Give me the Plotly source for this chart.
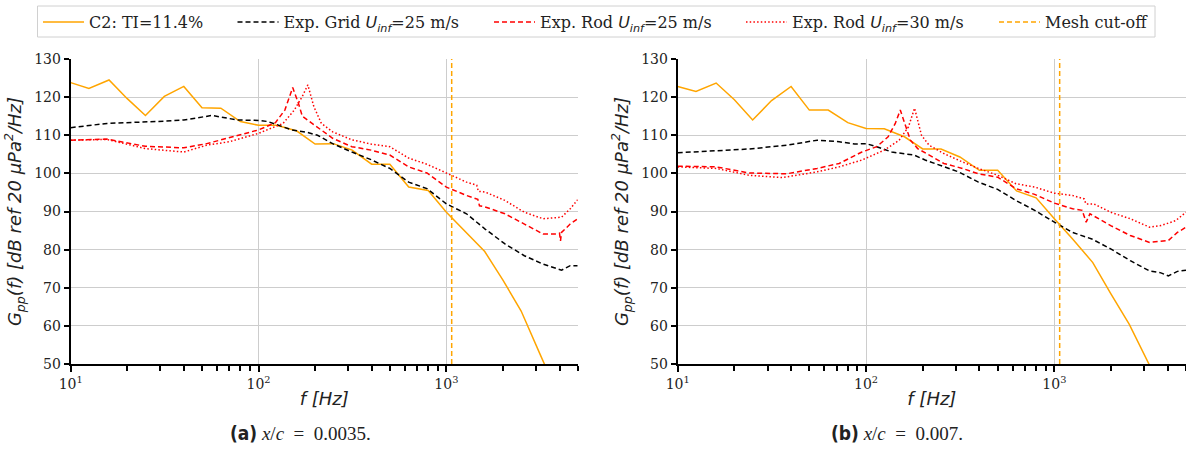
import plotly.graph_objects as go

W, H = 1186, 453

# ---------------- data ----------------
# CFD (C2) third-octave band spectra
freq_c2 = [10, 12.5, 16, 20, 25, 31.5, 40, 50, 63, 80, 100, 125, 160, 200, 250, 315,
           400, 500, 630, 800, 1000, 1250, 1600, 2000, 2500, 3150, 4000]
gpp_c2_a = [123.8, 122.3, 124.5, 119.6, 115.2, 120.2, 122.8, 117.2, 117.1, 113.6, 112.6, 112.6,
            111.1, 107.7, 107.8, 106.1, 102.4, 102.4, 96.4, 95.5, 89.8, 85.0, 79.5, 72.0, 63.9,
            52.6, 41.0]
gpp_c2_b = [122.8, 121.5, 123.7, 119.3, 114.0, 119.1, 122.8, 116.6, 116.6, 113.3, 111.8, 111.7,
            109.6, 106.4, 106.4, 104.3, 100.8, 100.8, 95.4, 93.6, 88.1, 82.8, 76.6, 68.3, 60.4,
            50.5, 40.0]

# Experimental grid, U_inf = 25 m/s
f_grid_a = [10, 15.6, 31.6, 40, 56.6, 77, 100, 112, 150, 180, 206, 248, 314, 397, 500, 630,
            788, 1000, 1280, 1607, 2050, 2600, 3270, 4100, 4560, 5000]
gpp_grid_a = [112.0, 113.1, 113.7, 114.0, 115.2, 114.0, 113.9, 113.6, 111.4, 110.8, 110.0, 107.8,
              105.6, 103.6, 101.3, 97.7, 96.0, 92.0, 89.4, 85.4, 81.5, 78.4, 76.2, 74.6, 75.8, 75.8]
f_grid_b = [10, 15.2, 24, 38, 55, 72, 87, 100, 114, 137, 157, 180, 206, 247, 310, 395, 500, 625,
            786, 1000, 1250, 1580, 1990, 2530, 3200, 3680, 4030, 4500, 5000]
gpp_grid_b = [105.4, 105.8, 106.4, 107.4, 108.7, 108.3, 107.7, 107.8, 107.0, 105.6, 105.2, 104.8,
              103.5, 102.1, 100.4, 97.7, 95.8, 92.9, 90.3, 87.2, 84.5, 82.8, 80.2, 77.1, 74.4,
              73.9, 73.1, 74.3, 74.6]

# Experimental rod, U_inf = 25 m/s
f_rod25_a = [10, 15.6, 25, 40, 53, 70, 84, 100, 123, 138, 152, 163, 171, 187, 206, 248, 314, 397,
             500, 630, 788, 1000, 1280, 1470, 1500, 1607, 2050, 2600, 3270, 3800, 4000, 4050,
             4100, 4560, 5000]
gpp_rod25_a = [108.7, 109.0, 107.1, 106.7, 107.8, 109.3, 110.3, 111.4, 113.3, 116.6, 122.5, 118.4,
               115.0, 113.6, 112.1, 109.2, 107.0, 106.1, 104.8, 101.7, 100.1, 96.4, 94.2, 93.2,
               91.5, 91.2, 89.4, 86.7, 84.1, 84.1, 84.3, 82.3, 84.5, 86.7, 88.1]
f_rod25_b = [10, 16, 24, 38, 55, 72, 95, 114, 131, 143, 152, 160, 172, 188, 216, 259, 325, 395,
             500, 625, 786, 1000, 1250, 1405, 1475, 1545, 1990, 2530, 3200, 4030, 4500, 5000]
gpp_rod25_b = [101.9, 101.7, 100.1, 99.9, 101.3, 102.6, 105.6, 107.0, 109.6, 113.1, 116.6, 113.1,
               108.7, 106.5, 104.8, 102.6, 101.3, 99.9, 99.0, 96.0, 94.5, 92.2, 90.7, 90.3, 87.2,
               89.4, 86.3, 83.7, 81.9, 82.4, 84.5, 85.9]

# Experimental rod, U_inf = 30 m/s
f_rod30_a = [10, 15.6, 25, 40, 53, 70, 100, 135, 155, 171, 183, 197, 216, 248, 314, 397, 500, 630,
             788, 1000, 1280, 1450, 1480, 1607, 2050, 2600, 3270, 4100, 4560, 5000]
gpp_rod30_a = [108.7, 108.9, 106.5, 105.6, 107.4, 108.3, 110.5, 113.1, 116.6, 120.2, 123.2, 117.5,
               113.1, 110.9, 108.8, 107.7, 107.0, 104.0, 102.4, 100.0, 97.7, 96.9, 95.3, 95.1,
               92.9, 89.8, 88.1, 88.5, 90.7, 93.1]
f_rod30_b = [10, 16, 24, 36, 55, 72, 95, 125, 150, 168, 181, 197, 216, 259, 325, 395, 500, 625,
             786, 1000, 1250, 1440, 1470, 1620, 1990, 2530, 3200, 3680, 4400, 5000]
gpp_rod30_b = [101.7, 101.3, 99.5, 98.9, 100.4, 101.7, 103.5, 106.1, 108.7, 112.2, 117.1, 110.0,
               107.4, 105.2, 103.0, 101.3, 99.5, 97.3, 96.4, 94.8, 94.2, 93.3, 92.0, 92.0, 89.8,
               88.1, 85.9, 86.3, 87.6, 89.8]

mesh_cutoff = 1067
y_limits = [50, 130]

legend_names = [
    "C2: TI=11.4%",
    "Exp. Grid <span style=\"font-family:'DejaVu Sans'\"><i>U<sub>inf</sub></i></span>=25 m/s",
    "Exp. Rod <span style=\"font-family:'DejaVu Sans'\"><i>U<sub>inf</sub></i></span>=25 m/s",
    "Exp. Rod <span style=\"font-family:'DejaVu Sans'\"><i>U<sub>inf</sub></i></span>=30 m/s",
    "Mesh cut-off",
]
captions = ["0.0035.", "0.007."]
x_major = [10, 100, 1000]
x_major_text = ["10<sup>1</sup>", "10<sup>2</sup>", "10<sup>3</sup>"]
x_minor = [20, 30, 40, 50, 60, 70, 80, 90, 200, 300, 400, 500, 600, 700, 800, 900,
           2000, 3000, 4000, 5000]
y_ticks = [50, 60, 70, 80, 90, 100, 110, 120, 130]

ORANGE = "#FFA500"
RED = "#FF0000"
BLACK = "#000000"

fig = go.Figure()


def add(x, y, color, dash, idx, xa, ya, show):
    leg = "legend" if idx == 0 else f"legend{idx + 1}"
    fig.add_trace(go.Scatter(
        x=x, y=y, mode="lines", name=legend_names[idx], legend=leg, showlegend=show,
        line=dict(color=color, width=1.5, dash=dash), xaxis=xa, yaxis=ya, hoverinfo="skip"))


panels = [
    ("x", "y", gpp_c2_a, f_grid_a, gpp_grid_a, f_rod25_a, gpp_rod25_a, f_rod30_a, gpp_rod30_a, True),
    ("x2", "y2", gpp_c2_b, f_grid_b, gpp_grid_b, f_rod25_b, gpp_rod25_b, f_rod30_b, gpp_rod30_b, False),
]
for xa, ya, c2, fg, gg, fr25, gr25, fr30, gr30, show in panels:
    add(freq_c2, c2, ORANGE, "solid", 0, xa, ya, show)
    add(fg, gg, BLACK, "5px,3px", 1, xa, ya, show)
    add(fr25, gr25, RED, "5px,3px", 2, xa, ya, show)
    add(fr30, gr30, RED, "1.5px,2.2px", 3, xa, ya, show)
    add([mesh_cutoff, mesh_cutoff], y_limits, ORANGE, "5px,3px", 4, xa, ya, show)

tick_font = dict(family="DejaVu Serif", size=14, color="#222222")
title_font = dict(family="DejaVu Sans", size=18, color="#222222")
GRID = "#cdcdcd"


def xaxis(domain, anchor):
    return dict(
        type="log", range=[1, 3.69897], domain=domain, anchor=anchor,
        showline=True, linecolor="black", linewidth=2, mirror=False,
        tickmode="array", tickvals=x_major, ticktext=x_major_text,
        ticks="outside", ticklen=6, tickwidth=1.5, tickcolor="black",
        tickfont=tick_font,
        showgrid=True, gridcolor=GRID, gridwidth=1, zeroline=False,
        minor=dict(tickmode="array", tickvals=x_minor, ticks="outside", ticklen=5,
                   tickwidth=1.5, tickcolor="black", showgrid=False),
        title=dict(text="<i>f [Hz]</i>", font=title_font, standoff=2),
        automargin=False,
    )


def yaxis(domain, anchor):
    return dict(
        range=y_limits, domain=domain, anchor=anchor,
        tickmode="array", tickvals=y_ticks,
        showline=True, linecolor="black", linewidth=2, mirror=False,
        ticks="outside", ticklen=5, tickwidth=1.5, tickcolor="black",
        tickfont=tick_font, showgrid=True, gridcolor=GRID, gridwidth=1, zeroline=False,
        title=dict(text="<i>G<sub>pp</sub>(f) [dB ref 20 μPa<sup>2</sup>/Hz]</i>",
                   font=title_font, standoff=8),
        automargin=False,
    )


ydom = [(H - 364) / H, (H - 59) / H]
legend_x_px = [38, 232.5, 489, 741, 994]
legend_common = dict(orientation="h", xanchor="left", yanchor="middle", y=1 - 22 / H,
                     bgcolor="rgba(0,0,0,0)", borderwidth=0, itemwidth=41,
                     font=dict(family="DejaVu Serif", size=16, color="#222222"))

layout = dict(
    width=W, height=H, margin=dict(l=0, r=0, t=0, b=0),
    paper_bgcolor="white", plot_bgcolor="white",
    xaxis=xaxis([70.7 / W, 577.7 / W], "y"),
    yaxis=yaxis(ydom, "x"),
    xaxis2=xaxis([677.7 / W, 1.0], "y2"),
    yaxis2=yaxis(ydom, "x2"),
    showlegend=True,
)
for i, lx in enumerate(legend_x_px):
    key = "legend" if i == 0 else f"legend{i + 1}"
    layout[key] = dict(x=lx / W, **legend_common)
fig.update_layout(**layout)

fig.add_shape(type="rect", xref="paper", yref="paper", x0=37.5 / W, x1=1155 / W,
              y0=1 - 37 / H, y1=1 - 6 / H, line=dict(color="#d0d0d0", width=1), layer="below")

cap_x = [300 / W, 897 / W]
for label, val, cx in zip(["(a)", "(b)"], captions, cap_x):
    fig.add_annotation(
        x=cx, y=1 - 433 / H, xref="paper", yref="paper", xanchor="center", yanchor="middle",
        showarrow=False,
        text=(f"<span style=\"font-family:'DejaVu Sans Condensed','Liberation Sans Narrow',sans-serif\">"
              f"<b>{label}</b></span> <i>x</i>/<i>c</i>&nbsp;&nbsp;=&nbsp;&nbsp;{val}"),
        font=dict(family="Liberation Serif", size=19, color="#222222"))

fig.write_html("out.html")
